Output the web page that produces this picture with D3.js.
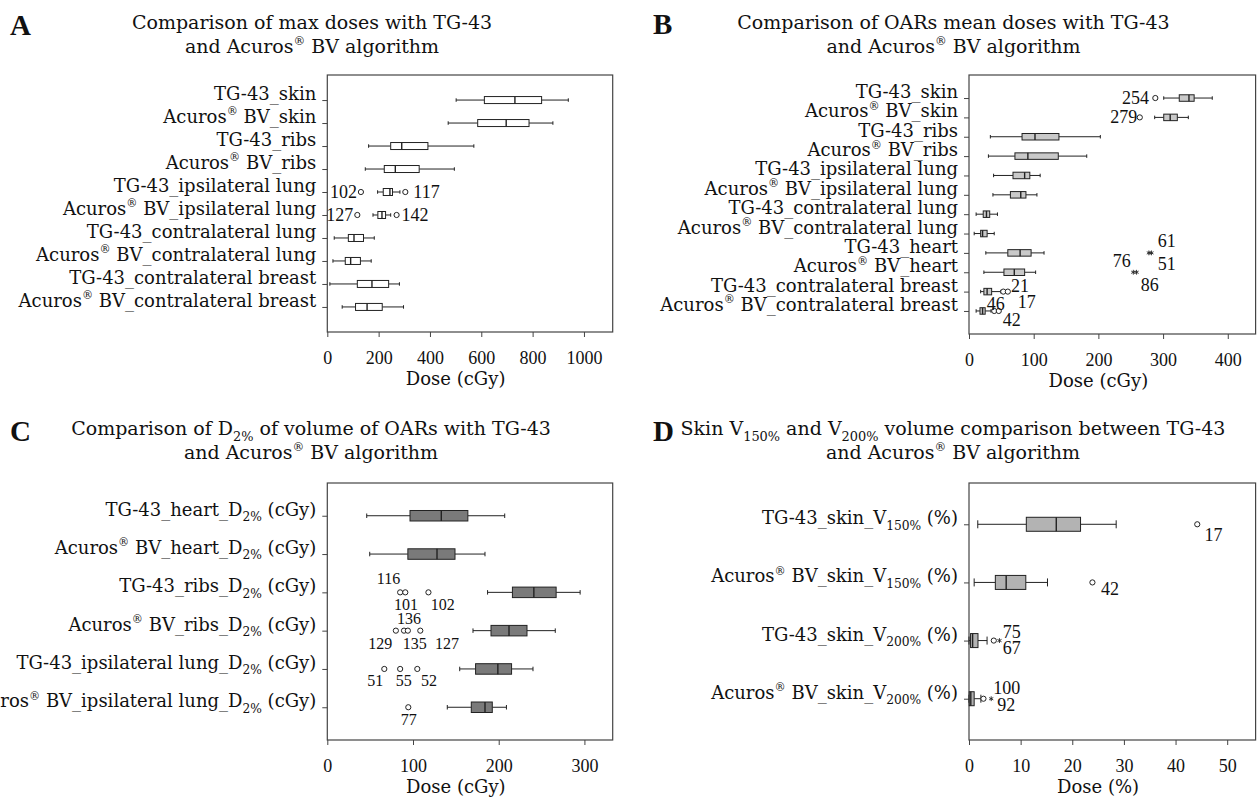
<!DOCTYPE html>
<html>
<head>
<meta charset="utf-8">
<script src="https://cdnjs.cloudflare.com/ajax/libs/d3/7.8.5/d3.min.js"></script>
<style>
  body { margin: 0; background: #fff; }
  svg { display: block; }
  text { white-space: pre; }
</style>
</head>
<body>
<svg id="chart" width="1257" height="801"></svg>
<script>
// ---- Panel A: max doses ----
const catsA = ["TG-43_skin", "Acuros^{®} BV_skin", "TG-43_ribs", "Acuros^{®} BV_ribs",
  "TG-43_ipsilateral lung", "Acuros^{®} BV_ipsilateral lung", "TG-43_contralateral lung",
  "Acuros^{®} BV_contralateral lung", "TG-43_contralateral breast", "Acuros^{®} BV_contralateral breast"];
const lowA  = [502, 471, 161, 148, 196, 178, 27, 22, 10, 58];
const q1A   = [612, 586, 247, 222, 218, 197, 82, 70, 117, 110];
const medA  = [731, 697, 290, 265, 244, 213, 104, 91, 174, 155];
const q3A   = [835, 786, 392, 358, 254, 227, 141, 129, 239, 214];
const highA = [939, 879, 571, 495, 283, 247, 183, 171, 281, 297];
const outA = [
  {cat: 4, value: 131, kind: "o", label: "102"},
  {cat: 4, value: 304, kind: "o", label: "117"},
  {cat: 5, value: 117, kind: "o", label: "127"},
  {cat: 5, value: 270, kind: "o", label: "142"}
];
const ticksA = [0, 200, 400, 600, 800, 1000];

// ---- Panel B: mean doses ----
const catsB = ["TG-43_skin", "Acuros^{®} BV_skin", "TG-43_ribs", "Acuros^{®} BV_ribs",
  "TG-43_ipsilateral lung", "Acuros^{®} BV_ipsilateral lung", "TG-43_contralateral lung",
  "Acuros^{®} BV_contralateral lung", "TG-43_heart", "Acuros^{®} BV_heart",
  "TG-43_contralateral breast", "Acuros^{®} BV_contralateral breast"];
const lowB  = [301, 287, 33, 30, 38, 37, 11, 8, 26, 23, 18, 11];
const q1B   = [325, 301, 82, 71, 68, 64, 22, 18, 60, 54, 23, 17];
const medB  = [340, 311, 102, 91, 86, 80, 27, 21, 79, 70, 28, 21];
const q3B   = [348, 322, 139, 138, 94, 88, 32, 28, 96, 86, 35, 25];
const highB = [376, 339, 203, 182, 110, 105, 44, 39, 116, 103, 49, 34];
const outB = [
  {cat: 0, value: 288, kind: "o", label: "254"},
  {cat: 1, value: 264, kind: "o", label: "279"},
  {cat: 8, value: 278, kind: "*", label: "51"},
  {cat: 8, value: 282, kind: "*", label: "61"},
  {cat: 9, value: 254, kind: "*", label: "76"},
  {cat: 9, value: 259, kind: "*", label: "86"},
  {cat: 10, value: 53, kind: "o", label: "17"},
  {cat: 10, value: 60, kind: "o", label: "21"},
  {cat: 11, value: 39, kind: "o", label: "46"},
  {cat: 11, value: 46, kind: "o", label: "42"}
];
const ticksB = [0, 100, 200, 300, 400];

// ---- Panel C: D2% ----
const catsC = ["TG-43_heart_D_{2%} (cGy)", "Acuros^{®} BV_heart_D_{2%} (cGy)",
  "TG-43_ribs_D_{2%} (cGy)", "Acuros^{®} BV_ribs_D_{2%} (cGy)",
  "TG-43_ipsilateral lung_D_{2%} (cGy)", "Acuros^{®} BV_ipsilateral lung_D_{2%} (cGy)"];
const lowC  = [46, 49.5, 187, 170, 154.5, 140];
const q1C   = [96.5, 94, 216, 191, 173, 168];
const medC  = [133, 128, 241, 212, 199, 184];
const q3C   = [164, 149, 267, 233, 215, 192.5];
const highC = [207, 184, 295, 266, 240, 209];
const outC = [
  {cat: 2, value: 85, kind: "o", label: "116"},
  {cat: 2, value: 91, kind: "o", label: "101"},
  {cat: 2, value: 118, kind: "o", label: "102"},
  {cat: 3, value: 80, kind: "o", label: "129"},
  {cat: 3, value: 89.5, kind: "o", label: "135"},
  {cat: 3, value: 94, kind: "o", label: "136"},
  {cat: 3, value: 108.5, kind: "o", label: "127"},
  {cat: 4, value: 66.5, kind: "o", label: "51"},
  {cat: 4, value: 85, kind: "o", label: "55"},
  {cat: 4, value: 105, kind: "o", label: "52"},
  {cat: 5, value: 94.5, kind: "o", label: "77"}
];
const ticksC = [0, 100, 200, 300];

// ---- Panel D: skin V150 / V200 ----
const catsD = ["TG-43_skin_V_{150%} (%)", "Acuros^{®} BV_skin_V_{150%} (%)",
  "TG-43_skin_V_{200%} (%)", "Acuros^{®} BV_skin_V_{200%} (%)"];
const lowD  = [1.7, 1.0, 0, 0];
const q1D   = [11.1, 5.1, 0.3, 0.05];
const medD  = [16.9, 7.2, 0.7, 0.35];
const q3D   = [21.6, 11.0, 1.74, 1.0];
const highD = [28.5, 15.2, 3.5, 2.3];
const outD = [
  {cat: 0, value: 44.2, kind: "o", label: "17"},
  {cat: 1, value: 23.9, kind: "o", label: "42"},
  {cat: 2, value: 4.8, kind: "o", label: "75"},
  {cat: 2, value: 5.9, kind: "*", label: "67"},
  {cat: 3, value: 2.8, kind: "o", label: "100"},
  {cat: 3, value: 4.3, kind: "*", label: "92"}
];
const ticksD = [0, 10, 20, 30, 40, 50];

// label placement next to each outlier: [dx, dy, anchor]
const notesA = [[-4, 5.8, "end"], [8, 5.8, "start"], [-4, 5.8, "end"], [5, 5.8, "start"]];
const notesB = [[-6.3, 5.8, "end"], [-2.5, 5.8, "end"], [8.8, 16.7, "start"], [6.2, -6.3, "start"],
  [-2.6, -5, "end"], [4.1, 18.3, "start"], [14.4, 16, "start"], [3.2, 0, "start"],
  [1.6, -1, "middle"], [3.9, 15.4, "start"]];
const notesC = [[0, -8, "end"], [0.7, 17.7, "middle"], [2.3, 17.7, "start"], [-3.6, 18.3, "end"],
  [10.7, 18.3, "middle"], [1.1, -6.7, "middle"], [14.7, 18.3, "start"], [-1, 16.7, "end"],
  [3.6, 16.7, "middle"], [3.7, 16.7, "start"], [0.5, 17.7, "middle"]];
const notesD = [[7.2, 16.4, "start"], [8.7, 12.4, "start"], [8.9, -2.7, "start"],
  [3.3, 13.7, "start"], [9.9, -4.7, "start"], [6.1, 12.6, "start"]];

const WORD = "'DejaVu Serif', serif";
const NUM = "'Liberation Serif', serif";

const panels = [
  {letter: "A", cats: catsA, low: lowA, q1: q1A, med: medA, q3: q3A, high: highA, out: outA, notes: notesA,
   ticks: ticksA, max: 1112, left: 327.3, right: 612.7, top: 75, bottom: 332, pad: 1.09,
   boxH: 7, capH: 3.5, fill: "#ffffff", noteSize: 18, letterX: 10, letterY: 35,
   title: ["Comparison of max doses with TG-43", "and Acuros^{®} BV algorithm"], titleX: 312, titleY: 29, xLabel: "Dose (cGy)"},
  {letter: "B", cats: catsB, low: lowB, q1: q1B, med: medB, q3: q3B, high: highB, out: outB, notes: notesB,
   ticks: ticksB, max: 443, left: 969, right: 1255.6, top: 75, bottom: 334, pad: 1.19,
   boxH: 6.5, capH: 3.5, fill: "#c9c9c9", noteSize: 18, letterX: 653, letterY: 34,
   title: ["Comparison of OARs mean doses with TG-43", "and Acuros^{®} BV algorithm"], titleX: 953.5, titleY: 29, xLabel: "Dose (cGy)"},
  {letter: "C", cats: catsC, low: lowC, q1: q1C, med: medC, q3: q3C, high: highC, out: outC, notes: notesC,
   ticks: ticksC, max: 333, left: 327.3, right: 612.7, top: 483, bottom: 740, pad: 0.855,
   boxH: 10.5, capH: 4.5, fill: "#7a7a7a", noteSize: 16, letterX: 10, letterY: 441,
   title: ["Comparison of D_{2%} of volume of OARs with TG-43", "and Acuros^{®} BV algorithm"], titleX: 311, titleY: 435, xLabel: "Dose (cGy)"},
  {letter: "D", cats: catsD, low: lowD, q1: q1D, med: medD, q3: q3D, high: highD, out: outD, notes: notesD,
   ticks: ticksD, max: 55.5, left: 969, right: 1255.6, top: 483, bottom: 740, pad: 0.71,
   boxH: 14, capH: 8, fill: "#b3b3b3", noteSize: 18, letterX: 653, letterY: 441,
   title: ["Skin V_{150%} and V_{200%} volume comparison between TG-43", "and Acuros^{®} BV algorithm"], titleX: 953, titleY: 435, xLabel: "Dose (%)"}
];

const svg = d3.select("#chart");

// text with ^{sup} and _{sub} pieces
function rich(sel, str, size) {
  const parts = str.split(/(\^\{[^}]*\}|_\{[^}]*\})/).filter(s => s.length);
  let shift = 0;
  parts.forEach(s => {
    let t = s, fs = size, dy = 0;
    if (s.startsWith("^{")) { t = s.slice(2, -1); fs = size * 0.62; dy = -size * 0.42; }
    else if (s.startsWith("_{")) { t = s.slice(2, -1); fs = size * 0.68; dy = size * 0.3; }
    sel.append("tspan").attr("font-size", fs).attr("dy", dy - shift).text(t);
    shift = dy;
  });
}

function starPath(cx, cy, s) {
  let d = "";
  [90, 30, 150].forEach(a => {
    const r = a * Math.PI / 180, dx = Math.cos(r) * s, dy = Math.sin(r) * s;
    d += `M${cx - dx},${cy - dy}L${cx + dx},${cy + dy}`;
  });
  return d;
}

function drawPanel(p) {
  const g = svg.append("g");
  const x = d3.scaleLinear().domain([0, p.max]).range([p.left, p.right]);
  const y = d3.scalePoint().domain(d3.range(p.cats.length)).range([p.top, p.bottom]).padding(p.pad);

  // panel letter + title
  g.append("text").attr("x", p.letterX).attr("y", p.letterY)
    .attr("font-family", NUM).attr("font-weight", "bold").attr("font-size", 29).attr("fill", "#111")
    .text(p.letter);
  p.title.forEach((line, i) => {
    const t = g.append("text").attr("x", p.titleX).attr("y", p.titleY + i * 24)
      .attr("text-anchor", "middle").attr("font-family", WORD).attr("fill", "#111");
    rich(t, line, 19);
  });

  // frame
  g.append("rect")
    .attr("x", p.left).attr("y", p.top)
    .attr("width", p.right - p.left).attr("height", p.bottom - p.top)
    .attr("fill", "none").attr("stroke", "#444").attr("stroke-width", 1.2);

  // x axis
  const xa = g.append("g").attr("transform", `translate(0,${p.bottom})`)
    .call(d3.axisBottom(x).tickValues(p.ticks).tickSize(5).tickPadding(14).tickFormat(d3.format("d")));
  xa.select(".domain").remove();
  xa.selectAll(".tick line").attr("stroke", "#444");
  xa.selectAll(".tick text").attr("font-family", NUM).attr("font-size", 18).attr("fill", "#111");

  g.append("text")
    .attr("x", (x(p.ticks[0]) + x(p.ticks[p.ticks.length - 1])) / 2)
    .attr("y", p.bottom + 53)
    .attr("text-anchor", "middle").attr("font-family", WORD).attr("font-size", 18).attr("fill", "#111")
    .text(p.xLabel);

  // y axis ticks and category labels
  const ya = g.append("g").attr("transform", `translate(${p.left},0)`)
    .call(d3.axisLeft(y).tickSize(5).tickFormat(""));
  ya.select(".domain").remove();
  ya.selectAll(".tick line").attr("stroke", "#444");

  p.cats.forEach((c, i) => {
    const t = g.append("text").attr("x", p.left - 11).attr("y", y(i)).attr("dy", "0.35em")
      .attr("text-anchor", "end").attr("font-family", WORD).attr("fill", "#111");
    rich(t, c, 18);
  });

  // boxes
  const rows = p.cats.map((c, i) => ({i, low: p.low[i], q1: p.q1[i], med: p.med[i], q3: p.q3[i], high: p.high[i]}));
  const box = g.selectAll(".box").data(rows).join("g").attr("class", "box")
    .attr("stroke", "#222").attr("stroke-width", 1);

  box.append("line").attr("x1", d => x(d.low)).attr("x2", d => x(d.q1))
    .attr("y1", d => y(d.i)).attr("y2", d => y(d.i));
  box.append("line").attr("x1", d => x(d.q3)).attr("x2", d => x(d.high))
    .attr("y1", d => y(d.i)).attr("y2", d => y(d.i));
  box.append("line").attr("x1", d => x(d.low)).attr("x2", d => x(d.low))
    .attr("y1", d => y(d.i) - p.capH / 2).attr("y2", d => y(d.i) + p.capH / 2);
  box.append("line").attr("x1", d => x(d.high)).attr("x2", d => x(d.high))
    .attr("y1", d => y(d.i) - p.capH / 2).attr("y2", d => y(d.i) + p.capH / 2);
  box.append("rect")
    .attr("x", d => x(d.q1)).attr("width", d => Math.max(1, x(d.q3) - x(d.q1)))
    .attr("y", d => y(d.i) - p.boxH / 2).attr("height", p.boxH)
    .attr("fill", p.fill);
  box.append("line").attr("x1", d => x(d.med)).attr("x2", d => x(d.med))
    .attr("y1", d => y(d.i) - p.boxH / 2).attr("y2", d => y(d.i) + p.boxH / 2)
    .attr("stroke-width", 1.4);

  // outliers
  const og = g.append("g");
  og.selectAll("circle").data(p.out.filter(o => o.kind === "o")).join("circle")
    .attr("cx", d => x(d.value)).attr("cy", d => y(d.cat)).attr("r", 2.6)
    .attr("fill", "#fff").attr("stroke", "#222").attr("stroke-width", 1);
  og.selectAll("path").data(p.out.filter(o => o.kind === "*")).join("path")
    .attr("d", d => starPath(x(d.value), y(d.cat), 2.4))
    .attr("stroke", "#222").attr("stroke-width", 0.9).attr("fill", "none");

  og.selectAll("text").data(p.out).join("text")
    .attr("x", (d, i) => x(d.value) + p.notes[i][0])
    .attr("y", (d, i) => y(d.cat) + p.notes[i][1])
    .attr("text-anchor", (d, i) => p.notes[i][2])
    .attr("font-family", NUM).attr("font-size", p.noteSize).attr("fill", "#111")
    .text(d => d.label);
}

panels.forEach(drawPanel);
</script>
</body>
</html>
